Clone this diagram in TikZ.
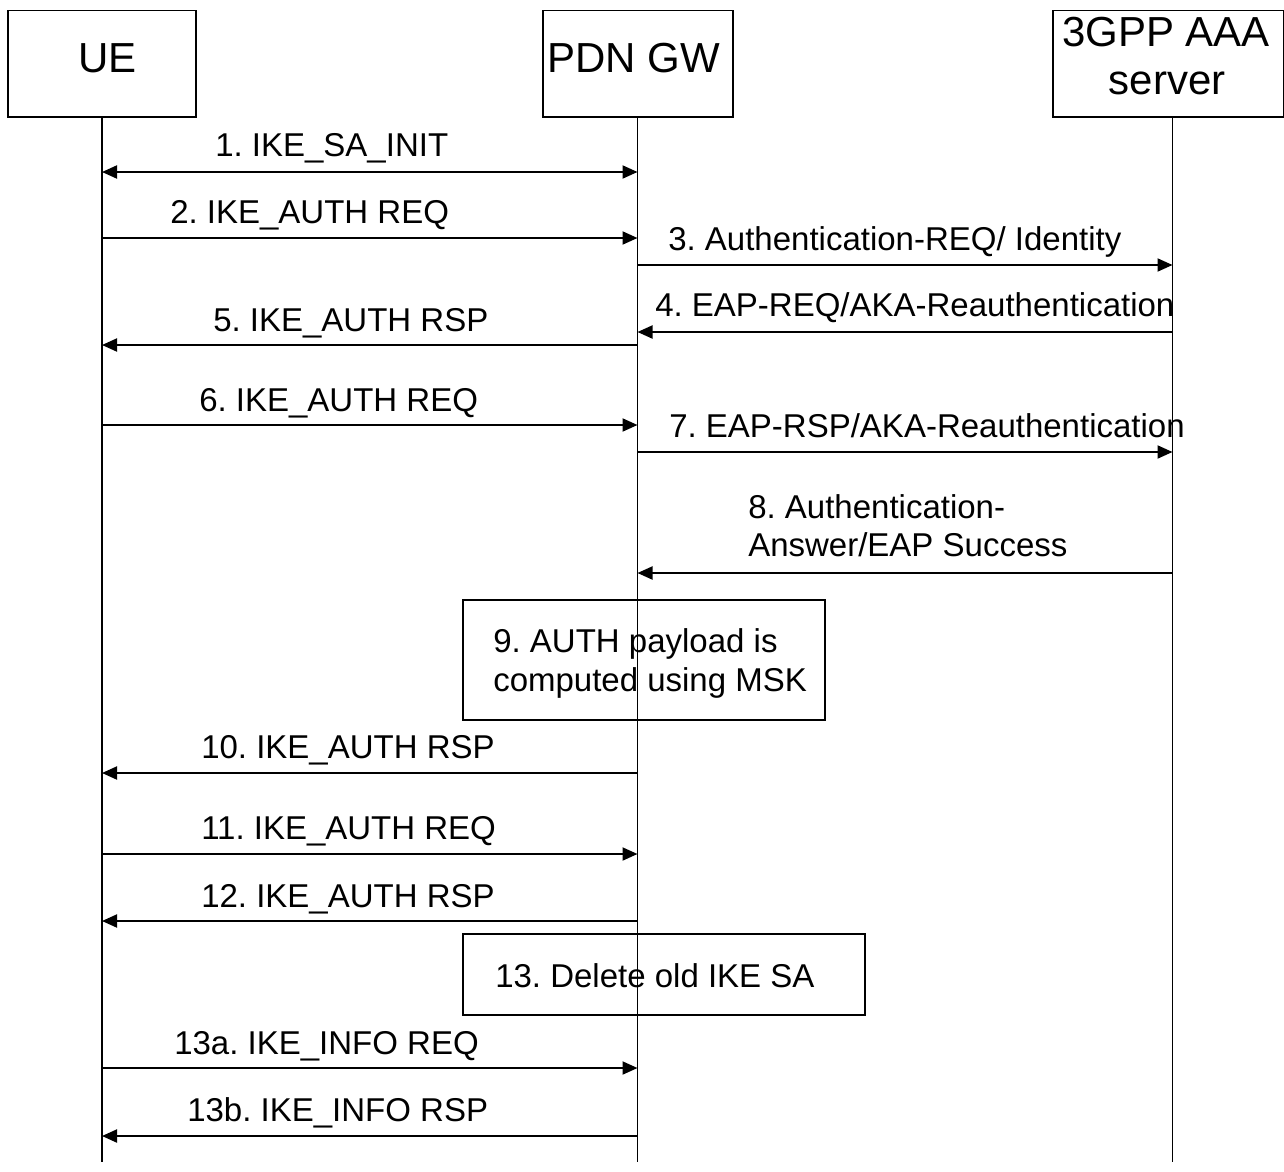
\documentclass[tikz,border=0pt]{standalone}
\usepackage{fontspec}
\setmainfont{Liberation Sans}
\usetikzlibrary{arrows.meta,fit}
\frenchspacing
\tikzset{
  actorbox/.style={draw, line width=1pt, inner sep=0pt},
  notebox/.style={draw, line width=1pt, inner sep=0pt},
  lifeline/.style={line width=1pt},
  msg/.style={line width=1.5pt, -{Triangle[length=11.25pt,width=9.75pt]}},
  biMsg/.style={line width=1.5pt, {Triangle[length=11.25pt,width=9.75pt]}-{Triangle[length=11.25pt,width=9.75pt]}},
  lbl/.style={inner sep=0pt, anchor=base west, font=\fontsize{24.75pt}{28.5pt}\selectfont},
  hdr/.style={inner sep=0pt, anchor=base, font=\fontsize{31.5pt}{36pt}\selectfont},
}
\begin{document}
\frenchspacing
\begin{tikzpicture}[x=0.75pt,y=-0.75pt]
\useasboundingbox (0,0) rectangle (1284,1171);

% actor boxes
\node[actorbox, fit={(8,10.5) (196,117)}] (ue) {};
\node[actorbox, fit={(543,10.5) (733,117)}] (pg) {};
\node[actorbox, fit={(1053,10.5) (1283.5,117)}] (aaa) {};
\node[hdr] (ueT) at (107.5,72) {UE};
\node[hdr] (pgT) at (633.5,72) {PDN GW};
\node[hdr] (aaaT1) at (1166,46) {3GPP AAA};
\node[hdr] (aaaT2) at (1167,94) {server};

% lifeline ends
\coordinate (ueB) at (102,1162);
\coordinate (pgB) at (637.5,1162);
\coordinate (aaB) at (1172.5,1162);
\draw[lifeline] (ue.south -| ueB) -- (ueB);
\draw[lifeline] (pg.south -| pgB) -- (pgB);
\draw[lifeline] (aaa.south -| aaB) -- (aaB);

% message rows
\coordinate (r1) at (0,172);
\coordinate (r2) at (0,238);
\coordinate (r3) at (0,265);
\coordinate (r4) at (0,332);
\coordinate (r5) at (0,345);
\coordinate (r6) at (0,425);
\coordinate (r7) at (0,452);
\coordinate (r8) at (0,573);
\coordinate (r10) at (0,773);
\coordinate (r11) at (0,854);
\coordinate (r12) at (0,921);
\coordinate (r13a) at (0,1068);
\coordinate (r13b) at (0,1136);

\draw[biMsg] (ueB |- r1) -- (pgB |- r1);
\draw[msg] (ueB |- r2) -- (pgB |- r2);
\draw[msg] (pgB |- r3) -- (aaB |- r3);
\draw[msg] (aaB |- r4) -- (pgB |- r4);
\draw[msg] (pgB |- r5) -- (ueB |- r5);
\draw[msg] (ueB |- r6) -- (pgB |- r6);
\draw[msg] (pgB |- r7) -- (aaB |- r7);
\draw[msg] (aaB |- r8) -- (pgB |- r8);
\draw[msg] (pgB |- r10) -- (ueB |- r10);
\draw[msg] (ueB |- r11) -- (pgB |- r11);
\draw[msg] (pgB |- r12) -- (ueB |- r12);
\draw[msg] (ueB |- r13a) -- (pgB |- r13a);
\draw[msg] (pgB |- r13b) -- (ueB |- r13b);

% labels
\node[lbl] (l1) at (215,156) {1. IKE\_SA\_INIT};
\node[lbl] (l2) at (170,223) {2. IKE\_AUTH REQ};
\node[lbl] (l3) at (668,250) {3. Authentication-REQ/ Identity};
\node[lbl] (l4) at (655,316) {4. EAP-REQ/AKA-Reauthentication};
\node[lbl] (l5) at (213,331) {5. IKE\_AUTH RSP};
\node[lbl] (l6) at (199,411) {6. IKE\_AUTH REQ};
\node[lbl] (l7) at (669,437) {7. EAP-RSP/AKA-Reauthentication};
\node[lbl] (l8a) at (748,518) {8. Authentication-};
\node[lbl] (l8b) at (748,556) {Answer/EAP Success};
\node[lbl] (l10) at (201,758) {10. IKE\_AUTH RSP};
\node[lbl] (l11) at (201,839) {11. IKE\_AUTH REQ};
\node[lbl] (l12) at (201,907) {12. IKE\_AUTH RSP};
\node[lbl] (l13a) at (174,1054) {13a. IKE\_INFO REQ};
\node[lbl] (l13b) at (187,1121) {13b. IKE\_INFO RSP};

% note boxes
\node[notebox, fit={(463,600) (825,720)}] (n9) {};
\node[lbl] (n9a) at (493,652) {9. AUTH payload is};
\node[lbl] (n9b) at (493,691) {computed using MSK};
\node[notebox, fit={(463,934) (865,1015)}] (n13) {};
\node[lbl] (n13t) at (495,987) {13. Delete old IKE SA};
\end{tikzpicture}
\end{document}
